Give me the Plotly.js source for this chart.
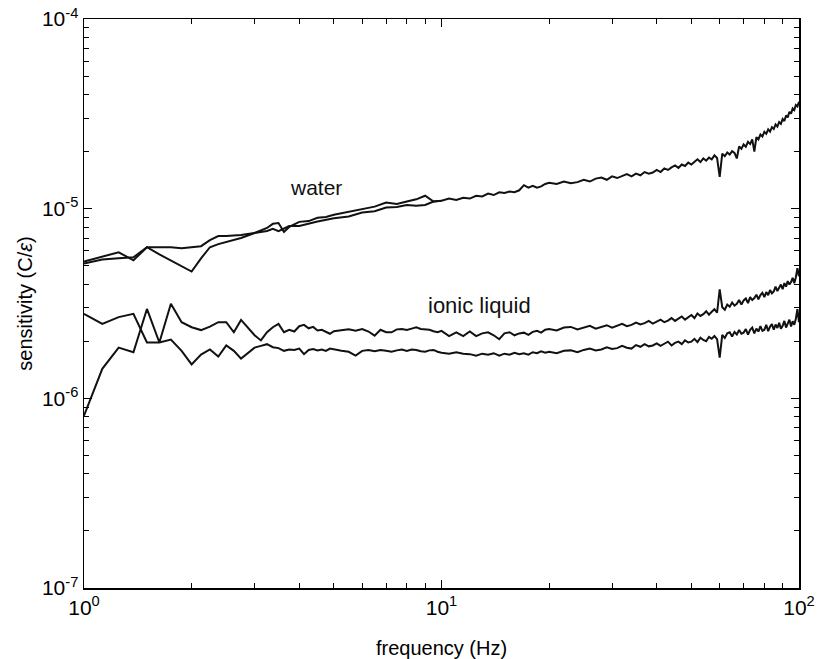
<!DOCTYPE html>
<html>
<head>
<meta charset="utf-8">
<script src="https://cdn.plot.ly/plotly-3.0.1.min.js"></script>
<style>html,body{margin:0;padding:0;background:#fff;}#chart{width:817px;height:659px;}</style>
</head>
<body>
<div id="chart"></div>
<script>
// sensitivity values are given in units of 1e-6 (C/epsilon)
var UNIT = 1e-6;

// ---- ionic liquid: shared frequency grids (Hz) ----
var freqIonicLow = [1, 1.125, 1.25, 1.375, 1.5, 1.625, 1.75, 1.875, 2, 2.125, 2.25, 2.375, 2.5, 2.625, 2.75, 2.875, 3, 3.125, 3.25, 3.375, 3.5];
var freqIonicMid = [3.625, 3.75, 3.875, 4, 4.125, 4.25, 4.375, 4.5, 4.625, 4.75, 4.875, 5, 5.25, 5.5, 5.75, 6, 6.25, 6.5, 6.75, 7, 7.25, 7.5, 7.75, 8, 8.25, 8.5, 8.75, 9, 9.25, 9.5, 9.75, 10, 10.5, 11, 11.5, 12, 12.5, 13, 13.5, 14, 14.5, 15, 15.5, 16, 16.5, 17, 17.5, 18, 18.5, 19, 19.5];
var freqHigh = [20, 21, 22, 23, 24, 25, 26, 27, 28, 29, 30, 31, 32, 33, 34, 35, 36, 37, 38, 39, 40, 41, 42, 43, 44, 45, 46, 47, 48, 49, 50, 51, 52, 53, 54, 55, 56, 57, 58, 59, 60, 61, 62, 63, 64, 65, 66, 67, 68, 69, 70, 71, 72, 73, 74, 75, 76, 77, 78, 79, 80, 81, 82, 83, 84, 85, 86, 87, 88, 89, 90, 91, 92, 93, 94, 95, 96, 97, 98, 99, 100];

// ionic liquid, run A (starts near 2.8e-6, ends lower)
var ionicA_low = [2.79, 2.47, 2.68, 2.79, 1.97, 1.97, 2.04, 1.78, 1.51, 1.70, 1.81, 1.66, 1.90, 1.78, 1.62, 1.74, 1.85, 1.89, 1.93, 1.86, 1.84];
var ionicA_mid = [1.78, 1.81, 1.80, 1.83, 1.71, 1.80, 1.82, 1.79, 1.81, 1.78, 1.83, 1.81, 1.78, 1.76, 1.68, 1.78, 1.80, 1.77, 1.80, 1.78, 1.76, 1.79, 1.81, 1.78, 1.81, 1.80, 1.77, 1.76, 1.79, 1.80, 1.76, 1.74, 1.72, 1.75, 1.72, 1.71, 1.68, 1.72, 1.70, 1.73, 1.68, 1.72, 1.70, 1.74, 1.71, 1.73, 1.70, 1.75, 1.73, 1.77, 1.74];
var ionicA_high = [1.76, 1.73, 1.78, 1.79, 1.75, 1.80, 1.83, 1.79, 1.81, 1.86, 1.82, 1.84, 1.89, 1.85, 1.83, 1.91, 1.87, 1.93, 1.88, 1.90, 1.95, 1.89, 1.94, 1.99, 1.90, 1.96, 1.99, 1.93, 2.02, 1.97, 1.99, 2.06, 1.98, 2.09, 2.03, 2.00, 2.11, 2.06, 2.13, 2.05, 1.64, 2.16, 2.08, 2.20, 2.23, 2.12, 2.24, 2.17, 2.29, 2.19, 2.22, 2.32, 2.17, 2.30, 2.36, 2.20, 2.33, 2.25, 2.40, 2.27, 2.30, 2.44, 2.26, 2.39, 2.46, 2.30, 2.45, 2.35, 2.50, 2.33, 2.41, 2.56, 2.36, 2.49, 2.60, 2.39, 2.55, 2.44, 2.63, 2.95, 2.52];

// ionic liquid, run B (starts near 8e-7, ends higher)
var ionicB_low = [0.81, 1.43, 1.85, 1.75, 2.96, 1.97, 3.15, 2.52, 2.37, 2.29, 2.39, 2.52, 2.52, 2.23, 2.59, 2.37, 2.15, 2.02, 2.23, 2.37, 2.47];
var ionicB_mid = [2.23, 2.30, 2.25, 2.40, 2.44, 2.34, 2.38, 2.28, 2.30, 2.25, 2.19, 2.26, 2.28, 2.31, 2.27, 2.32, 2.25, 2.14, 2.30, 2.23, 2.23, 2.31, 2.32, 2.29, 2.33, 2.37, 2.32, 2.31, 2.30, 2.26, 2.23, 2.27, 2.13, 2.23, 2.13, 2.25, 2.13, 2.20, 2.23, 2.15, 2.05, 2.20, 2.23, 2.15, 2.20, 2.22, 2.16, 2.24, 2.27, 2.22, 2.30];
var ionicB_high = [2.32, 2.28, 2.36, 2.38, 2.31, 2.35, 2.41, 2.33, 2.38, 2.43, 2.36, 2.42, 2.47, 2.40, 2.44, 2.51, 2.45, 2.49, 2.56, 2.48, 2.53, 2.60, 2.52, 2.57, 2.65, 2.56, 2.63, 2.70, 2.60, 2.68, 2.75, 2.65, 2.80, 2.72, 2.78, 2.88, 2.76, 2.86, 2.95, 2.83, 3.75, 3.02, 2.93, 3.12, 3.04, 3.20, 3.08, 3.15, 3.30, 3.12, 3.28, 3.36, 3.18, 3.42, 3.30, 3.38, 3.52, 3.33, 3.50, 3.60, 3.42, 3.63, 3.50, 3.72, 3.58, 3.66, 3.88, 3.68, 3.85, 3.98, 3.76, 4.05, 3.88, 4.15, 3.98, 4.10, 4.32, 4.05, 4.35, 4.86, 4.40];

// ---- water ----
// water, full sweep 1-100 Hz
var freqWaterLow = [1, 1.125, 1.25, 1.375, 1.5, 1.625, 1.75, 1.875, 2, 2.125, 2.25, 2.375, 2.5, 2.75, 3, 3.25, 3.375, 3.5, 3.75, 4, 4.5, 5, 5.5, 6, 6.5, 7, 7.5, 8, 8.5, 9, 9.5, 10, 10.5, 11, 11.5, 12, 12.5, 13, 13.5, 14, 14.5, 15, 15.5, 16, 16.5, 17, 17.5, 18, 18.5, 19, 19.5];
var waterA_low = [5.14, 5.40, 5.47, 5.54, 6.26, 6.26, 6.26, 6.18, 6.26, 6.34, 6.82, 7.17, 7.17, 7.26, 7.44, 7.63, 7.82, 7.60, 8.10, 8.11, 8.55, 8.90, 9.10, 9.55, 9.70, 10.15, 10.20, 10.45, 10.35, 10.45, 10.90, 11.0, 11.3, 11.1, 11.4, 11.3, 11.7, 11.6, 12.0, 11.8, 12.2, 12.1, 12.3, 12.2, 12.5, 13.3, 12.9, 13.2, 12.9, 13.1, 13.5];
var waterA_high = [13.7, 13.5, 13.9, 13.6, 13.8, 14.2, 13.9, 14.4, 14.6, 14.2, 14.8, 14.5, 14.9, 15.2, 14.8, 15.3, 15.0, 15.6, 15.3, 15.5, 16.0, 15.6, 16.3, 16.0, 16.5, 16.9, 16.4, 17.1, 16.8, 17.5, 17.1, 17.7, 18.2, 17.6, 18.4, 17.9, 18.6, 18.2, 19.1, 18.5, 14.7, 19.5, 18.9, 19.8, 19.3, 20.1, 19.7, 18.4, 21.3, 20.7, 21.8, 21.2, 22.5, 21.9, 23.2, 20.0, 23.8, 23.2, 24.6, 24.0, 25.4, 24.8, 26.2, 25.5, 26.9, 26.3, 27.8, 27.1, 28.6, 28.0, 29.7, 29.0, 31.0, 30.3, 32.4, 31.7, 33.8, 33.1, 35.2, 34.6, 36.6];

// water, short sweep 1-10 Hz
var freqWaterB = [1, 1.125, 1.25, 1.375, 1.5, 1.625, 1.75, 1.875, 2, 2.125, 2.25, 2.375, 2.5, 2.75, 3, 3.25, 3.375, 3.5, 3.625, 3.75, 4, 4.25, 4.5, 4.75, 5, 5.5, 6, 6.5, 7, 7.5, 8, 8.5, 9, 9.5, 10];
var waterB = [5.27, 5.60, 5.89, 5.34, 6.26, 5.74, 5.34, 4.96, 4.66, 5.47, 6.26, 6.50, 6.66, 7.00, 7.44, 7.91, 8.32, 8.40, 7.53, 8.01, 8.52, 8.60, 8.95, 9.05, 9.28, 9.64, 10.0, 10.25, 10.77, 10.6, 10.9, 11.2, 11.7, 10.9, 11.0];

// ---- axis ticks ----
var xTickVals = [1, 10, 100];
var xTickText = ['10<sup>0</sup>', '10<sup>1</sup>', '10<sup>2</sup>'];
var xMinorVals = [2, 3, 4, 5, 6, 7, 8, 9, 20, 30, 40, 50, 60, 70, 80, 90];
var yTickVals = [1e-7, 1e-6, 1e-5, 1e-4];
var yTickText = ['10<sup>-7</sup>', '10<sup>-6</sup>', '10<sup>-5</sup>', '10<sup>-4</sup>'];
var yMinorVals = [2e-7, 3e-7, 4e-7, 5e-7, 6e-7, 7e-7, 8e-7, 9e-7, 2e-6, 3e-6, 4e-6, 5e-6, 6e-6, 7e-6, 8e-6, 9e-6, 2e-5, 3e-5, 4e-5, 5e-5, 6e-5, 7e-5, 8e-5, 9e-5];

function scale(arr) { return arr.map(function (v) { return v * UNIT; }); }

var lineStyle = {color: '#111', width: 2};
var traces = [
  {x: freqIonicLow.concat(freqIonicMid, freqHigh), y: scale(ionicA_low.concat(ionicA_mid, ionicA_high)), mode: 'lines', line: lineStyle, name: 'ionic liquid A'},
  {x: freqIonicLow.concat(freqIonicMid, freqHigh), y: scale(ionicB_low.concat(ionicB_mid, ionicB_high)), mode: 'lines', line: lineStyle, name: 'ionic liquid B'},
  {x: freqWaterLow.concat(freqHigh), y: scale(waterA_low.concat(waterA_high)), mode: 'lines', line: lineStyle, name: 'water A'},
  {x: freqWaterB, y: scale(waterB), mode: 'lines', line: lineStyle, name: 'water B'}
];

var axisCommon = {
  type: 'log', showgrid: false, zeroline: false,
  showline: true, linecolor: '#000', linewidth: 1.5, mirror: 'ticks',
  ticks: 'inside', ticklen: 8, tickwidth: 1.2, tickcolor: '#000',
  tickfont: {size: 21, color: '#000'}
};

var layout = {
  width: 817, height: 659,
  margin: {l: 84, r: 18, t: 19, b: 71, pad: 0},
  paper_bgcolor: '#fff', plot_bgcolor: '#fff',
  showlegend: false,
  font: {family: 'Liberation Sans, Arial, sans-serif', color: '#000', size: 20},
  xaxis: Object.assign({}, axisCommon, {
    range: [0, 2], tickmode: 'array', tickvals: xTickVals, ticktext: xTickText,
    minor: {tickmode: 'array', tickvals: xMinorVals, ticks: 'inside', ticklen: 5, tickwidth: 1, tickcolor: '#000', showgrid: false},
    title: {text: 'frequency (Hz)', font: {size: 20, color: '#000'}, standoff: 25}
  }),
  yaxis: Object.assign({}, axisCommon, {
    range: [-7, -4], tickmode: 'array', tickvals: yTickVals, ticktext: yTickText,
    minor: {tickmode: 'array', tickvals: yMinorVals, ticks: 'inside', ticklen: 5, tickwidth: 1, tickcolor: '#000', showgrid: false},
    title: {text: 'sensitivity (C/<i>ε</i>)', font: {size: 20, color: '#000'}, standoff: 4}
  }),
  annotations: [
    {x: 0.648, y: -4.891, xref: 'x', yref: 'y', text: 'water', showarrow: false, font: {size: 21, color: '#111'}},
    {x: 1.107, y: -5.508, xref: 'x', yref: 'y', text: 'ionic liquid', showarrow: false, font: {size: 22, color: '#111'}}
  ]
};

Plotly.newPlot('chart', traces, layout, {displayModeBar: false, staticPlot: true});
</script>
</body>
</html>
